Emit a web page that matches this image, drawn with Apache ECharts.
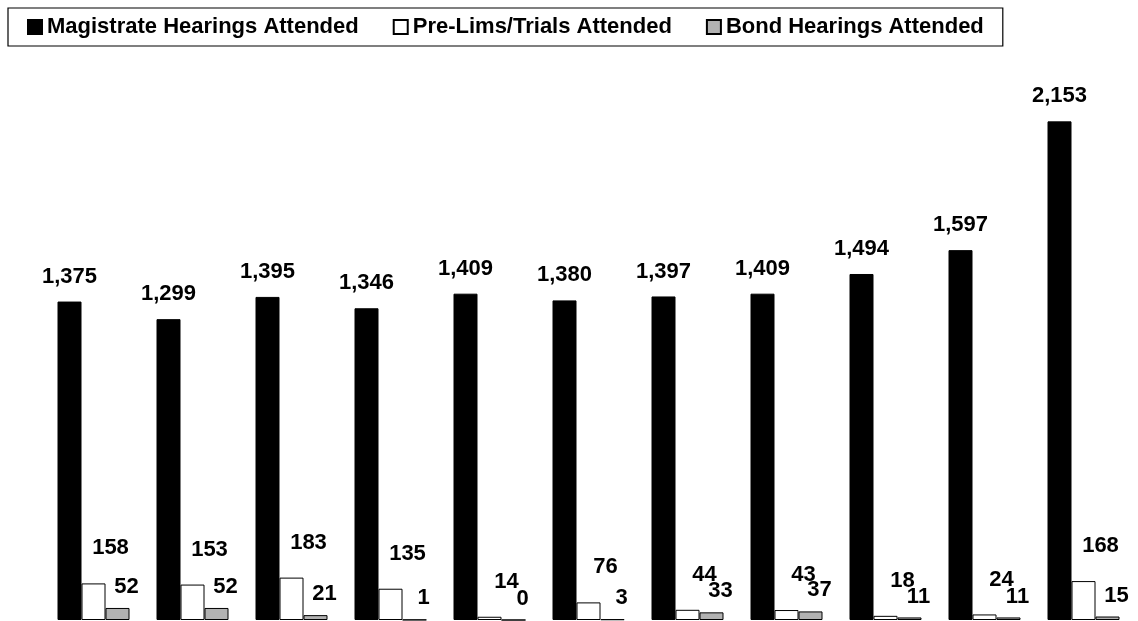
<!DOCTYPE html>
<html>
<head>
<meta charset="utf-8">
<script src="https://cdn.jsdelivr.net/npm/echarts@6/dist/echarts.min.js"></script>
<style>
html,body{margin:0;padding:0;background:#fff;}
#chart{width:1138px;height:621px;}
</style>
</head>
<body>
<div id="chart"></div>
<script>
var categories = ['1','2','3','4','5','6','7','8','9','10','11'];
var seriesNames = ['Magistrate Hearings Attended','Pre-Lims/Trials Attended','Bond Hearings Attended'];
var magistrate = [1375,1299,1395,1346,1409,1380,1397,1409,1494,1597,2153];
var prelims = [158,153,183,135,14,76,44,43,18,24,168];
var bond = [52,52,21,1,0,3,33,37,11,11,15];

var FONT = "'Liberation Sans', Arial, sans-serif";
function fmt(p){ return Number(p.value).toLocaleString('en-US'); }
function lbl(dist, dx){
  return {show:true, position:'top', distance:dist, offset:[dx,0], formatter:fmt,
    color:'#000', fontFamily:FONT, fontWeight:'bold', fontSize:22};
}
var chart = echarts.init(document.getElementById('chart'), null, {renderer:'canvas'});
chart.setOption({
  animation:false,
  backgroundColor:'#fff',
  legend:{
    left:8, top:8,
    padding:[8,19,8,19],
    borderColor:'#000', borderWidth:1.2,
    itemWidth:14, itemHeight:14, itemGap:34,
    icon:'rect',
    textStyle:{fontFamily:FONT, fontWeight:'bold', fontSize:22, color:'#000'},
    data:seriesNames
  },
  grid:{left:44, right:5, top:41, bottom:1, containLabel:false},
  xAxis:{type:'category', data:categories,
    axisLine:{show:false}, axisTick:{show:false}, axisLabel:{show:false}, splitLine:{show:false}},
  yAxis:{type:'value', min:0, max:2500, show:false},
  series:[
    {name:seriesNames[0], type:'bar', data:magistrate, barWidth:24, barGap:'0%',
     itemStyle:{color:'#000', borderColor:'#000', borderWidth:1},
     label:lbl(14,0)},
    {name:seriesNames[1], type:'bar', data:prelims, barWidth:24, barGap:'0%',
     itemStyle:{color:'#fff', borderColor:'#000', borderWidth:1},
     label:lbl(24,17)},
    {name:seriesNames[2], type:'bar', data:bond, barWidth:24, barGap:'0%',
     itemStyle:{color:'#b2b2b2', borderColor:'#000', borderWidth:1},
     label:lbl(10,9)}
  ]
});
</script>
</body>
</html>
